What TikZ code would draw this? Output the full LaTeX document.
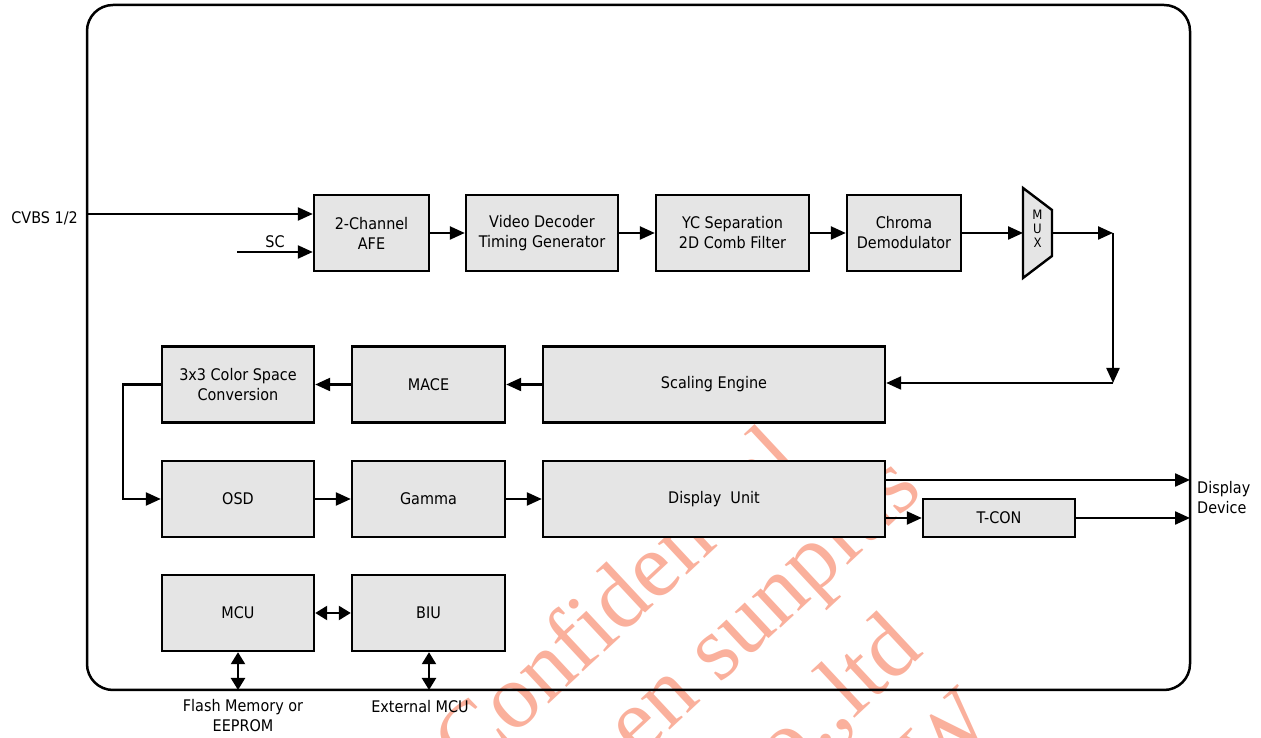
\documentclass[tikz,border=0pt]{standalone}
\usepackage{fontspec}
\setmainfont{DejaVu Sans}[FakeStretch=0.9]
\newfontfamily\wmfont{Liberation Serif}
\usetikzlibrary{arrows.meta,calc}
\definecolor{wmred}{RGB}{250,176,156}
\tikzset{
 chip/.style={line width=2.5pt,rounded corners=26pt},
 block/.style={draw,line width=2.4pt,fill=black!10,minimum height=76pt,inner sep=0,align=center,font=\fontsize{16}{20}\selectfont},
 flow/.style={line width=2.3pt,-{Triangle[length=15pt,width=13pt]}},
 bus/.style={line width=2.3pt,{Triangle[length=12pt,width=14pt]}-{Triangle[length=12pt,width=14pt]}},
 tag/.style={inner sep=0,align=center,font=\fontsize{16}{20}\selectfont},
 muxtag/.style={inner sep=0,align=center,font=\fontsize{13}{14}\selectfont},
 wm/.style={inner sep=0,text=wmred,rotate=43,font=\wmfont\fontsize{92}{92}\selectfont}
}

\begin{document}
\begin{tikzpicture}[x=1pt,y=1pt]
\path[use as bounding box] (0,0) rectangle (1261,738);
\begin{scope}
\clip (0,0) rectangle (1261,738);
\node[wm,anchor=base east] (wm1) at (805,273) {Confidential};
\node[wm,anchor=base east] (wm2) at (925,245) {en sunplus};
\node[wm,anchor=base east] (wm3) at (925,85) {co.,ltd};
\node[wm,anchor=base west] (wm4) at (935,-50) {W};
\end{scope}
\draw[chip] (87,48) rectangle (1190,733);
\node[block,minimum width=115pt] (afe) at (371.5,505) {2-Channel\\AFE};
\node[block,minimum width=152pt] (vdec) at (542,505) {Video Decoder\\Timing Generator};
\node[block,minimum width=153pt] (ycsep) at (732.5,505) {YC Separation\\2D Comb Filter};
\node[block,minimum width=114pt] (chroma) at (904,505) {Chroma\\Demodulator};
\draw[line width=2.4pt,fill=black!10] (1023,550) -- (1052,528) -- (1052,482) -- (1023,460) -- cycle;
\node[muxtag] (mux) at (1037.5,509) {M\\U\\X};
\coordinate (muxin) at (1023,505);
\coordinate (muxout) at (1052,505);
\node[block,minimum width=152pt] (csc) at (238,353.5) {3x3 Color Space\\Conversion};
\node[block,minimum width=153pt] (mace) at (428.5,353.5) {MACE};
\node[block,minimum width=342pt] (scale) at (714,353.5) {Scaling Engine};
\node[block,minimum width=152pt] (osd) at (238,239) {OSD};
\node[block,minimum width=153pt] (gamma) at (428.5,239) {Gamma};
\node[block,minimum width=342pt] (disp) at (714,239) {Display\ \ Unit};
\node[block,minimum width=152pt,minimum height=38pt] (tcon) at (999,220) {T-CON};
\node[block,minimum width=152pt] (mcu) at (238,125) {MCU};
\node[block,minimum width=153pt] (biu) at (428.5,125) {BIU};
\coordinate (cvbs) at (87,524);
\coordinate (sc) at (237,486);
\coordinate (turnA) at (1113,505);
\coordinate (turnB) at (1113,355);
\coordinate (devA) at (1190,258);
\coordinate (devB) at (1190,220);
\coordinate (flash) at (238,48);
\coordinate (ext) at (429,48);
\node[tag,anchor=east] (cvbslbl) at (78,520) {CVBS 1/2};
\node[tag] (sclbl) at (275,496) {SC};
\node[tag,anchor=west,align=left] (devlbl) at (1197,240) {Display\\Device};
\node[tag] (flashlbl) at (243,22) {Flash Memory or\\EEPROM};
\node[tag] (extlbl) at (420,31) {External MCU};
\draw[flow] (cvbs) -- (cvbs -| afe.west);
\draw[flow] (sc) -- (sc -| afe.west);
\draw[flow] (afe) -- (vdec);
\draw[flow] (vdec) -- (ycsep);
\draw[flow] (ycsep) -- (chroma);
\draw[flow] (chroma) -- (muxin);
\draw[flow] (muxout) -- (turnA);
\draw[flow] (turnA) -- (turnB);
\draw[flow] (turnB) -- (turnB -| scale.east);
\draw[flow] (scale) -- (mace);
\draw[flow] (mace) -- (csc);
\draw[flow] (csc.west) -- ++(-38,0) |- (osd.west);
\draw[flow] (osd) -- (gamma);
\draw[flow] (gamma) -- (disp);
\draw[flow] (devA -| disp.east) -- (devA);
\draw[flow] (devB -| disp.east) -- (tcon.west);
\draw[flow] (tcon) -- (devB);
\draw[bus] (mcu) -- (biu);
\draw[bus] (mcu.south) -- (flash);
\draw[bus] (biu.south -| ext) -- (ext);
\end{tikzpicture}
\end{document}
